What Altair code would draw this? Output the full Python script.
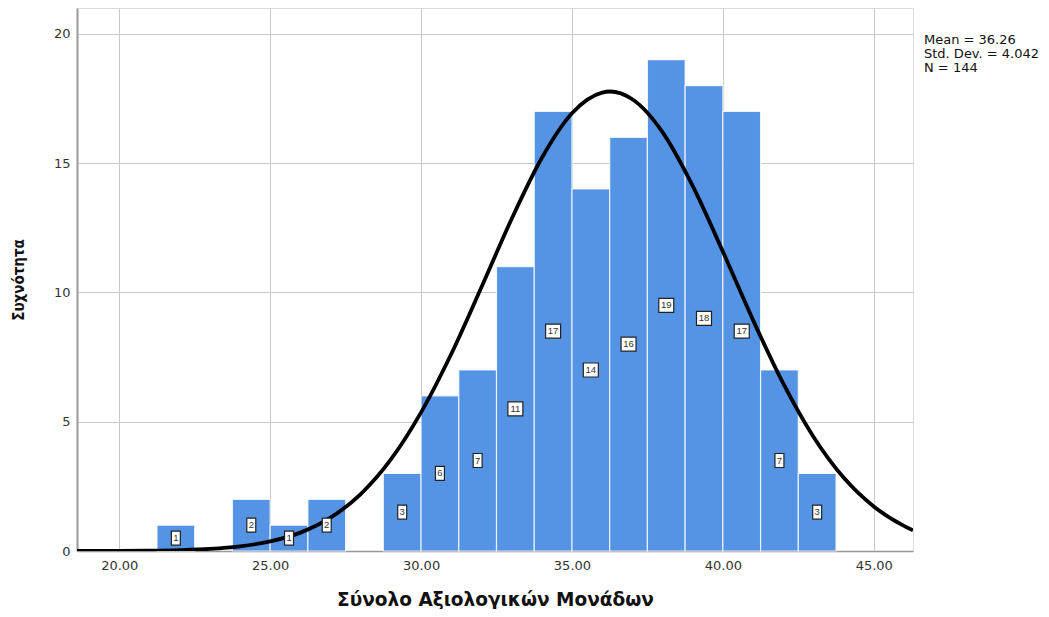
import altair as alt
import pandas as pd

# Histogram bins (lower edge, upper edge) and frequencies
bin_lo = [21.25, 23.75, 25.00, 26.25, 28.75, 30.00, 31.25, 32.50, 33.75, 35.00, 36.25, 37.50, 38.75, 40.00, 41.25, 42.50]
bin_hi = [22.50, 25.00, 26.25, 27.50, 30.00, 31.25, 32.50, 33.75, 35.00, 36.25, 37.50, 38.75, 40.00, 41.25, 42.50, 43.75]
counts = [1, 2, 1, 2, 3, 6, 7, 11, 17, 14, 16, 19, 18, 17, 7, 3]

# Normal curve
curve_x = [18.6, 20, 21, 22, 23, 24, 25, 26, 27, 28, 29, 30, 31, 32, 33, 34, 35, 36, 36.26, 37, 38, 39, 40, 41, 42, 43, 44, 45, 46, 46.3]
curve_y = [0.001, 0.005, 0.014, 0.035, 0.08, 0.18, 0.37, 0.71, 1.29, 2.20, 3.54, 5.36, 7.62, 10.20, 12.84, 15.20, 16.93, 17.73, 17.77, 17.47, 16.20, 14.12, 11.58, 8.93, 6.48, 4.42, 2.84, 1.72, 0.97, 0.80]

stats_lines = ["Mean = 36.26", "Std. Dev. = 4.042", "N = 144"]
stats_rows = [0, 1, 2]

bars_df = pd.DataFrame({"lo": bin_lo, "hi": bin_hi, "n": counts})
curve_df = pd.DataFrame({"x": curve_x, "y": curve_y})
stats_df = pd.DataFrame({"t": stats_lines, "i": stats_rows})

W, H = 836, 543
FONT = "Liberation Sans, Arial, sans-serif"
WIDE = "DejaVu Sans, Verdana, sans-serif"
COND = "DejaVu Sans Condensed, DejaVu Sans, sans-serif"
xscale = alt.Scale(domain=[18.6, 46.3], nice=False, zero=False)
yscale = alt.Scale(domain=[0, 21], nice=False)

base = alt.Chart(bars_df)

bars = base.mark_rect(color="#5594E4", stroke="#ffffff", strokeWidth=1.2, strokeOpacity=0.8).encode(
    x=alt.X("lo:Q", scale=xscale,
            axis=alt.Axis(values=[20, 25, 30, 35, 40, 45], format=".2f", title="Σύνολο Αξιολογικών Μονάδων",
                          grid=True, gridColor="#c8c8c8", gridWidth=1, ticks=False,
                          domainColor="#999999", domainWidth=1.5,
                          labelFont=WIDE, labelFontSize=13, labelColor="#333333", labelPadding=8,
                          titleFont=WIDE, titleFontSize=18.5, titleFontWeight="bold",
                          titleColor="#111111", titlePadding=18)),
    x2="hi:Q",
    y=alt.Y("n:Q", scale=yscale,
            axis=alt.Axis(values=[0, 5, 10, 15, 20], title="Συχνότητα",
                          grid=True, gridColor="#c8c8c8", gridWidth=1, ticks=False,
                          domainColor="#999999", domainWidth=2,
                          labelFont=WIDE, labelFontSize=13, labelColor="#333333", labelPadding=7,
                          titleFont=COND, titleFontSize=15, titleFontWeight="bold",
                          titleColor="#111111", titlePadding=27)),
    y2=alt.datum(0),
)

lab_base = base.transform_calculate(mid="datum.n / 2", cx="(datum.lo + datum.hi) / 2")

box1 = lab_base.transform_filter("datum.n < 10").mark_point(
    shape="M-0.64,-1L0.64,-1L0.64,1L-0.64,1Z", size=196, filled=True,
    fill="#ffffff", stroke="#222222", strokeWidth=1.2, opacity=1
).encode(x=alt.X("cx:Q", scale=xscale), y=alt.Y("mid:Q", scale=yscale))

box2 = lab_base.transform_filter("datum.n >= 10").mark_point(
    shape="M-1.07,-1L1.07,-1L1.07,1L-1.07,1Z", size=196, filled=True,
    fill="#ffffff", stroke="#222222", strokeWidth=1.2, opacity=1
).encode(x=alt.X("cx:Q", scale=xscale), y=alt.Y("mid:Q", scale=yscale))

labtext = lab_base.mark_text(font=FONT, fontSize=9.5, color="#333333", baseline="middle", align="center").encode(
    x=alt.X("cx:Q", scale=xscale), y=alt.Y("mid:Q", scale=yscale), text="n:Q"
)

curve = alt.Chart(curve_df).mark_line(color="#000000", strokeWidth=3.8, interpolate="monotone", clip=True).encode(
    x=alt.X("x:Q", scale=xscale), y=alt.Y("y:Q", scale=yscale)
)

stats = alt.Chart(stats_df).mark_text(font=WIDE, fontSize=13, color="#111111", align="left", baseline="middle").encode(
    x=alt.value(W + 11),
    y=alt.Y("i:Q", scale=alt.Scale(domain=[0, 2], range=[32, 60]), axis=None),
    text="t:N",
)

chart = alt.layer(bars, curve, box1, box2, labtext).properties(width=W, height=H)
chart = alt.layer(chart, stats).resolve_scale(y="independent").properties(
    width=W, height=H,
    autosize=alt.AutoSizeParams(type="none"),
    padding={"left": 69, "top": 0, "right": 128, "bottom": 58},
).configure_view(stroke=None).configure(background="#ffffff")

chart.save("out.html", embed_options={"renderer": "svg", "actions": False})
